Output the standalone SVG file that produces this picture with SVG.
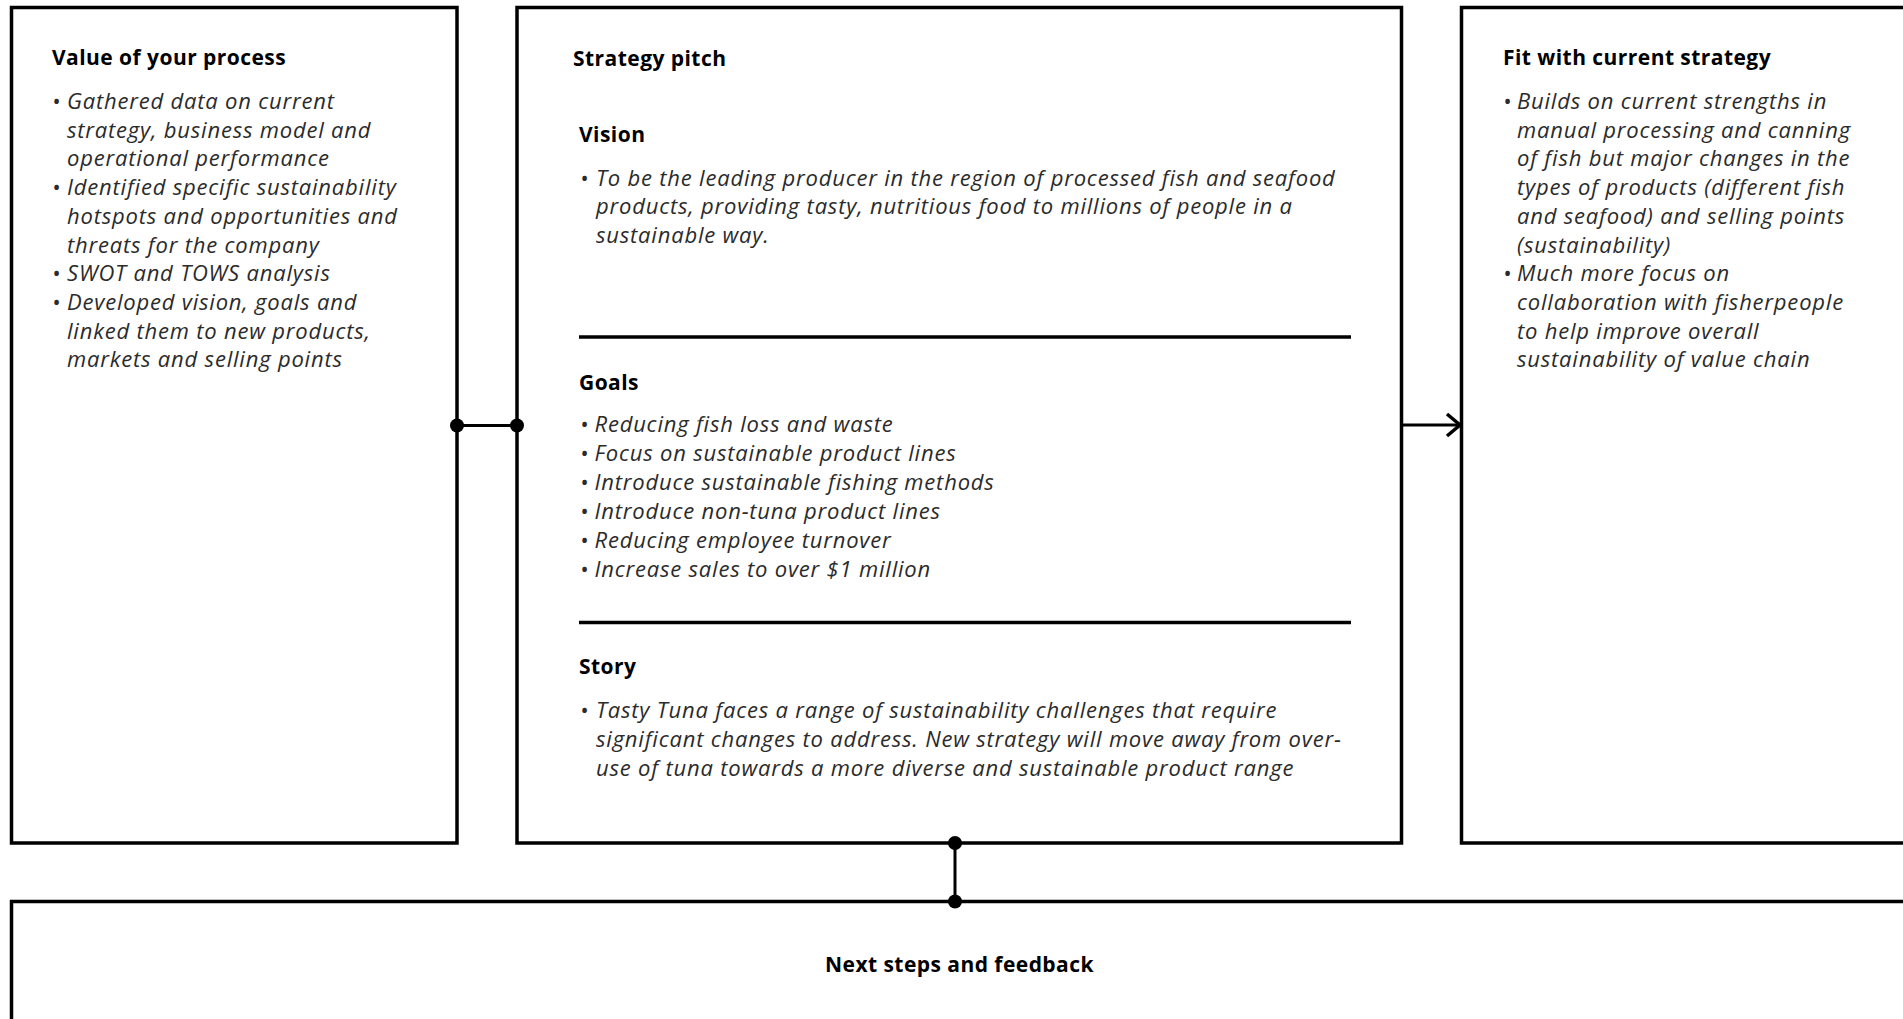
<svg xmlns="http://www.w3.org/2000/svg" width="1903" height="1019" viewBox="0 0 1903 1019">
<style>
.box{fill:#fff;stroke:#000;stroke-width:3.5}
.div{stroke:#000;stroke-width:3.5}
.title{font-family:"Open Sans","Liberation Sans",sans-serif;font-weight:700;font-size:21px;letter-spacing:0.45px;fill:#000}
.body{font-family:"Open Sans","Liberation Sans",sans-serif;font-weight:400;font-style:italic;font-size:22px;letter-spacing:0.8px;fill:#2b2b2b}
.conn{stroke:#000;stroke-width:3;fill:none}
</style>
<defs>
<marker id="dot" markerUnits="userSpaceOnUse" markerWidth="16" markerHeight="16" refX="8" refY="8" viewBox="0 0 16 16"><circle cx="8" cy="8" r="7" fill="#000"/></marker>
<marker id="arrow" markerUnits="userSpaceOnUse" markerWidth="20" markerHeight="28" refX="17" refY="14" viewBox="0 0 20 28" orient="auto"><path d="M4,3 L17,14 L4,25" fill="none" stroke="#000" stroke-width="3.5"/></marker>
</defs>
<rect width="1903" height="1019" fill="#fff"/>
<g id="value-of-process">
<rect class="box" x="11.5" y="7.5" width="445.5" height="835.5"/>
<text class="title" x="52" y="65">Value of your process</text>
<text class="body"><tspan x="52" y="109">•</tspan><tspan x="67" y="109">Gathered data on current</tspan><tspan x="67" y="137.7">strategy, business model and</tspan><tspan x="67" y="166.4">operational performance</tspan><tspan x="52" y="195.1">•</tspan><tspan x="67" y="195.1">Identified specific sustainability</tspan><tspan x="67" y="223.8">hotspots and  opportunities and</tspan><tspan x="67" y="252.5">threats for the company</tspan><tspan x="52" y="281.2">•</tspan><tspan x="67" y="281.2">SWOT and TOWS analysis</tspan><tspan x="52" y="309.9">•</tspan><tspan x="67" y="309.9">Developed vision, goals and</tspan><tspan x="67" y="338.6">linked them to new products,</tspan><tspan x="67" y="367.3">markets and selling points</tspan></text>
</g>
<g id="strategy-pitch">
<rect class="box" x="517" y="7.5" width="884.5" height="835.5"/>
<text class="title" x="573" y="65.5">Strategy pitch</text>
<text class="title" x="579" y="141.5">Vision</text>
<text class="body"><tspan x="580" y="185.5">•</tspan><tspan x="596" y="185.5">To be the leading producer in the region of processed fish and seafood</tspan><tspan x="596" y="214.4">products, providing tasty, nutritious food to millions of people in a</tspan><tspan x="596" y="243.3">sustainable way.</tspan></text>
<line class="div" x1="579" y1="337" x2="1351" y2="337"/>
<text class="title" x="579" y="389.5">Goals</text>
<text class="body"><tspan x="580" y="431.5">•</tspan><tspan x="594.5" y="431.5">Reducing fish loss and waste</tspan><tspan x="580" y="460.5">•</tspan><tspan x="594.5" y="460.5">Focus on sustainable product lines</tspan><tspan x="580" y="489.5">•</tspan><tspan x="594.5" y="489.5">Introduce sustainable fishing methods</tspan><tspan x="580" y="518.5">•</tspan><tspan x="594.5" y="518.5">Introduce non-tuna product lines</tspan><tspan x="580" y="547.5">•</tspan><tspan x="594.5" y="547.5">Reducing employee turnover</tspan><tspan x="580" y="576.5">•</tspan><tspan x="594.5" y="576.5">Increase sales to over $1 million</tspan></text>
<line class="div" x1="579" y1="622.5" x2="1351" y2="622.5"/>
<text class="title" x="579" y="674">Story</text>
<text class="body"><tspan x="580" y="718.3">•</tspan><tspan x="596" y="718.3">Tasty Tuna faces a range of sustainability challenges that require</tspan><tspan x="596" y="747.2">significant changes to address. New strategy will move away from over-</tspan><tspan x="596" y="776.1">use of tuna towards a more diverse and sustainable product range</tspan></text>
</g>
<g id="fit-with-strategy">
<rect class="box" x="1461.5" y="7.5" width="445.5" height="835.5"/>
<text class="title" x="1503" y="65">Fit with current strategy</text>
<text class="body"><tspan x="1503" y="109">•</tspan><tspan x="1517" y="109">Builds on current strengths in</tspan><tspan x="1517" y="137.7">manual processing and canning</tspan><tspan x="1517" y="166.4">of fish but major changes in the</tspan><tspan x="1517" y="195.1">types of products (different fish</tspan><tspan x="1517" y="223.8">and seafood) and selling points</tspan><tspan x="1517" y="252.5">(sustainability)</tspan><tspan x="1503" y="281.2">•</tspan><tspan x="1517" y="281.2">Much more focus on</tspan><tspan x="1517" y="309.9">collaboration with fisherpeople</tspan><tspan x="1517" y="338.6">to help improve overall</tspan><tspan x="1517" y="367.3">sustainability of value chain</tspan></text>
</g>
<g id="next-steps">
<rect class="box" x="11.5" y="901.5" width="1895.5" height="200"/>
<text class="title" x="959.5" y="971.5" text-anchor="middle">Next steps and feedback</text>
</g>
<g id="connectors">
<line class="conn" x1="457" y1="425.5" x2="517" y2="425.5" marker-start="url(#dot)" marker-end="url(#dot)"/>
<line class="conn" x1="1401.5" y1="425" x2="1460" y2="425" marker-end="url(#arrow)"/>
<line class="conn" x1="955" y1="843" x2="955" y2="901.5" marker-start="url(#dot)" marker-end="url(#dot)"/>
</g>
</svg>
